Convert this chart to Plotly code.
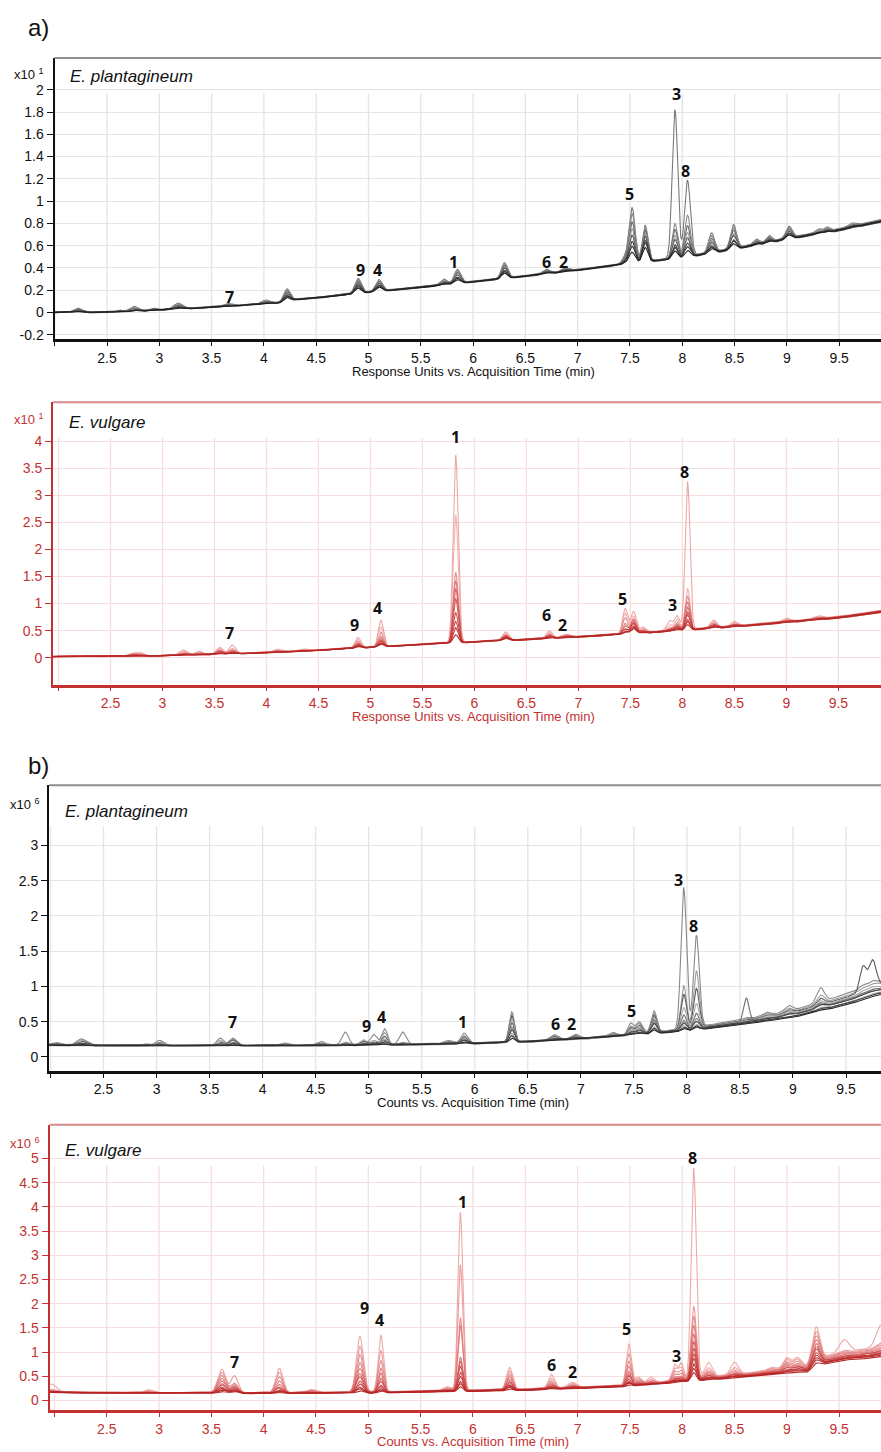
import numpy as np
import plotly.graph_objects as go

W, H = 881, 1452

# ================= a) upper: E. plantagineum (Response Units, x10^1) =================
a1_base_t = [2.0, 2.5, 3.0, 3.5, 4.0, 4.2, 4.3, 4.5, 5.0, 5.5, 6.0, 6.5, 7.0, 7.5, 8.0, 8.5, 9.0, 9.5, 9.9]
a1_base_y = [0.0, 0.0, 0.02, 0.045, 0.075, 0.09, 0.115, 0.13, 0.18, 0.225, 0.275, 0.325, 0.38, 0.44, 0.49, 0.57, 0.66, 0.74, 0.82]
a1_peak_t = [2.22, 2.62, 2.76, 2.95, 3.18, 3.65, 4.02, 4.22, 4.90, 5.10, 5.72, 5.85, 6.30, 6.70, 6.88,
             7.45, 7.52, 7.645, 7.93, 8.05, 8.28, 8.49, 8.71, 8.83, 9.02, 9.30, 9.38, 9.62]
a1_peak_w = [0.035, 0.025, 0.035, 0.025, 0.04, 0.035, 0.035, 0.03, 0.03, 0.03, 0.03, 0.03, 0.028, 0.03, 0.03,
             0.025, 0.029, 0.026, 0.026, 0.028, 0.028, 0.028, 0.025, 0.025, 0.028, 0.025, 0.025, 0.03]
a1_peak_h = [
    [0.035, 0.03, 0.025, 0.02, 0.02, 0.015, 0.01, 0.01],
    [0.012, 0.01, 0.01, 0.008, 0.008, 0.005, 0.005, 0.005],
    [0.04, 0.03, 0.025, 0.02, 0.015, 0.012, 0.01, 0.008],
    [0.015, 0.012, 0.01, 0.01, 0.008, 0.008, 0.005, 0.005],
    [0.05, 0.04, 0.035, 0.03, 0.025, 0.02, 0.015, 0.01],
    [0.02, 0.015, 0.012, 0.01, 0.01, 0.008, 0.006, 0.005],
    [0.03, 0.025, 0.02, 0.015, 0.012, 0.01, 0.008, 0.006],
    [0.11, 0.10, 0.09, 0.08, 0.07, 0.06, 0.05, 0.04],
    [0.13, 0.12, 0.11, 0.10, 0.09, 0.08, 0.06, 0.05],
    [0.10, 0.09, 0.085, 0.08, 0.07, 0.06, 0.05, 0.04],
    [0.045, 0.035, 0.03, 0.025, 0.02, 0.015, 0.012, 0.01],
    [0.12, 0.11, 0.10, 0.09, 0.075, 0.06, 0.045, 0.035],
    [0.135, 0.125, 0.115, 0.10, 0.09, 0.075, 0.06, 0.05],
    [0.035, 0.03, 0.025, 0.02, 0.02, 0.015, 0.012, 0.01],
    [0.025, 0.022, 0.02, 0.018, 0.015, 0.012, 0.01, 0.008],
    [0.05, 0.04, 0.035, 0.03, 0.025, 0.02, 0.015, 0.01],
    [0.49, 0.44, 0.37, 0.31, 0.25, 0.20, 0.15, 0.10],
    [0.32, 0.30, 0.28, 0.26, 0.23, 0.20, 0.17, 0.13],
    [1.33, 0.31, 0.26, 0.21, 0.17, 0.13, 0.10, 0.07],
    [0.68, 0.37, 0.28, 0.22, 0.17, 0.13, 0.09, 0.06],
    [0.17, 0.15, 0.13, 0.11, 0.09, 0.07, 0.05, 0.04],
    [0.21, 0.19, 0.17, 0.14, 0.12, 0.09, 0.07, 0.05],
    [0.04, 0.035, 0.03, 0.025, 0.02, 0.018, 0.015, 0.01],
    [0.05, 0.045, 0.04, 0.035, 0.03, 0.025, 0.02, 0.015],
    [0.10, 0.095, 0.085, 0.075, 0.065, 0.055, 0.045, 0.035],
    [0.03, 0.025, 0.02, 0.02, 0.015, 0.015, 0.01, 0.01],
    [0.035, 0.03, 0.025, 0.02, 0.02, 0.015, 0.01, 0.01],
    [0.025, 0.02, 0.02, 0.015, 0.015, 0.01, 0.01, 0.008],
]
a1_offs = [0.004, 0.002, 0.0, -0.002, 0.003, -0.003, 0.001, -0.001]
a1_tail = [0.01, 0.006, 0.003, 0.0, -0.003, -0.006, 0.002, -0.002]
a1_spread_t = [2.0, 7.5, 9.9]
a1_spread_w = [0.0, 0.3, 1.0]
a1_colors = ['#7a7a7a', '#8c8c8c', '#6a6a6a', '#9a9a9a', '#555555', '#444444', '#333333', '#1e1e1e']
a1_labels = ['7', '9', '4', '1', '6', '2', '5', '3', '8']
a1_label_t = [3.67, 4.92, 5.09, 5.81, 6.70, 6.86, 7.50, 7.94, 8.03]
a1_label_y = [0.14, 0.38, 0.38, 0.45, 0.45, 0.45, 1.06, 1.96, 1.27]

# ================= a) lower: E. vulgare (Response Units, x10^1) =================
a2_base_t = [1.95, 2.5, 3.0, 3.5, 4.0, 4.5, 5.0, 5.5, 6.0, 6.5, 7.0, 7.5, 8.0, 8.5, 9.0, 9.5, 9.91]
a2_base_y = [0.02, 0.02, 0.035, 0.06, 0.09, 0.135, 0.19, 0.245, 0.29, 0.335, 0.385, 0.44, 0.505, 0.575, 0.65, 0.74, 0.85]
a2_peak_t = [2.28, 2.70, 2.78, 3.20, 3.35, 3.55, 3.67, 4.10, 4.35, 4.88, 5.10, 5.82, 6.30, 6.72, 6.88,
             7.45, 7.53, 7.62, 7.88, 7.95, 8.05, 8.30, 8.50, 9.00, 9.30]
a2_peak_w = [0.035, 0.035, 0.035, 0.035, 0.035, 0.03, 0.03, 0.035, 0.035, 0.026, 0.024, 0.024, 0.028, 0.026, 0.035,
             0.024, 0.026, 0.024, 0.028, 0.024, 0.023, 0.028, 0.028, 0.035, 0.035]
a2_peak_h = [
    [0.02, 0.02, 0.015, 0.015, 0.01, 0.01, 0.01, 0.008, 0.005, 0.005],
    [0.05, 0.04, 0.035, 0.03, 0.025, 0.02, 0.015, 0.01, 0.01, 0.005],
    [0.06, 0.05, 0.04, 0.03, 0.025, 0.02, 0.015, 0.01, 0.01, 0.005],
    [0.09, 0.07, 0.05, 0.04, 0.03, 0.025, 0.02, 0.015, 0.01, 0.01],
    [0.06, 0.05, 0.04, 0.03, 0.02, 0.015, 0.01, 0.01, 0.005, 0.005],
    [0.12, 0.10, 0.08, 0.07, 0.06, 0.05, 0.04, 0.03, 0.02, 0.015],
    [0.16, 0.10, 0.08, 0.06, 0.05, 0.04, 0.03, 0.025, 0.02, 0.015],
    [0.05, 0.04, 0.03, 0.025, 0.02, 0.015, 0.01, 0.01, 0.005, 0.005],
    [0.03, 0.025, 0.02, 0.015, 0.01, 0.01, 0.008, 0.006, 0.005, 0.004],
    [0.19, 0.15, 0.12, 0.10, 0.08, 0.07, 0.06, 0.05, 0.04, 0.03],
    [0.48, 0.36, 0.27, 0.20, 0.15, 0.12, 0.10, 0.08, 0.06, 0.05],
    [3.46, 2.35, 1.30, 1.15, 1.00, 0.82, 0.55, 0.40, 0.28, 0.15],
    [0.15, 0.13, 0.11, 0.10, 0.09, 0.08, 0.07, 0.06, 0.05, 0.04],
    [0.13, 0.10, 0.08, 0.07, 0.06, 0.05, 0.04, 0.03, 0.025, 0.02],
    [0.05, 0.045, 0.04, 0.035, 0.03, 0.025, 0.02, 0.015, 0.01, 0.01],
    [0.46, 0.38, 0.30, 0.20, 0.15, 0.10, 0.08, 0.06, 0.05, 0.04],
    [0.40, 0.32, 0.27, 0.22, 0.25, 0.20, 0.18, 0.15, 0.12, 0.10],
    [0.10, 0.08, 0.06, 0.05, 0.04, 0.03, 0.03, 0.02, 0.02, 0.01],
    [0.18, 0.10, 0.06, 0.04, 0.03, 0.02, 0.02, 0.01, 0.01, 0.01],
    [0.26, 0.20, 0.15, 0.12, 0.10, 0.08, 0.06, 0.05, 0.04, 0.03],
    [2.73, 0.76, 0.62, 0.52, 0.42, 0.34, 0.27, 0.20, 0.15, 0.10],
    [0.13, 0.11, 0.09, 0.08, 0.07, 0.06, 0.05, 0.04, 0.03, 0.02],
    [0.08, 0.06, 0.05, 0.04, 0.035, 0.03, 0.025, 0.02, 0.015, 0.01],
    [0.06, 0.05, 0.04, 0.035, 0.03, 0.025, 0.02, 0.015, 0.01, 0.01],
    [0.05, 0.04, 0.035, 0.03, 0.025, 0.02, 0.015, 0.01, 0.01, 0.01],
]
a2_offs = [0.005, 0.003, 0.0, -0.003, 0.002, -0.002, 0.004, -0.004, 0.001, -0.001]
a2_tail = [0.02, 0.012, 0.006, 0.0, -0.006, -0.012, 0.01, -0.01, 0.003, -0.003]
a2_spread_t = [1.95, 7.5, 9.91]
a2_spread_w = [0.0, 0.3, 1.0]
a2_colors = ['rgba(234,150,150,0.85)', 'rgba(238,165,165,0.85)', 'rgba(224,120,120,0.85)', 'rgba(218,105,105,0.85)',
             'rgba(210,88,88,0.85)', 'rgba(204,74,74,0.9)', 'rgba(198,62,62,0.9)', 'rgba(192,52,52,0.9)',
             'rgba(186,44,44,0.95)', 'rgba(180,38,38,0.95)']
a2_labels = ['7', '9', '4', '1', '6', '2', '5', '3', '8']
a2_label_t = [3.64, 4.85, 5.07, 5.82, 6.69, 6.85, 7.42, 7.90, 8.02]
a2_label_y = [0.46, 0.61, 0.92, 4.08, 0.79, 0.61, 1.09, 0.98, 3.43]

# ================= b) upper: E. plantagineum (Counts, x10^6) =================
b1_base_t = [1.99, 2.5, 3.0, 3.5, 4.0, 4.5, 5.0, 5.5, 6.0, 6.5, 7.0, 7.5, 8.0, 8.5, 9.0, 9.5, 9.84]
b1_base_y = [0.165, 0.16, 0.155, 0.155, 0.155, 0.16, 0.165, 0.175, 0.19, 0.215, 0.255, 0.31, 0.38, 0.48, 0.60, 0.80, 0.97]
b1_peak_t = [2.05, 2.28, 2.33, 2.90, 3.03, 3.60, 3.72, 4.20, 4.55, 4.78, 4.95, 5.05, 5.15, 5.32, 5.75, 5.90,
             6.35, 6.75, 6.95, 7.30, 7.47, 7.55, 7.69, 7.97, 8.09, 8.56, 8.75, 8.96, 9.26, 9.66, 9.75]
b1_peak_w = [0.035, 0.035, 0.035, 0.035, 0.035, 0.03, 0.035, 0.035, 0.035, 0.03, 0.03, 0.03, 0.026, 0.03, 0.035, 0.03,
             0.024, 0.035, 0.035, 0.035, 0.026, 0.03, 0.026, 0.026, 0.027, 0.026, 0.035, 0.035, 0.035, 0.03, 0.035]
b1_peak_h = [
    [0.03, 0.02, 0.02, 0.015, 0.01, 0.01, 0.01, 0.005, 0.005, 0.005],
    [0.07, 0.05, 0.04, 0.03, 0.02, 0.02, 0.015, 0.01, 0.01, 0.005],
    [0.03, 0.04, 0.03, 0.02, 0.02, 0.015, 0.01, 0.01, 0.005, 0.005],
    [0.02, 0.02, 0.015, 0.01, 0.01, 0.01, 0.005, 0.005, 0.005, 0.005],
    [0.07, 0.05, 0.04, 0.03, 0.025, 0.02, 0.015, 0.01, 0.01, 0.005],
    [0.10, 0.07, 0.05, 0.04, 0.03, 0.025, 0.02, 0.015, 0.01, 0.01],
    [0.10, 0.09, 0.08, 0.06, 0.05, 0.04, 0.03, 0.02, 0.015, 0.01],
    [0.03, 0.025, 0.02, 0.015, 0.01, 0.01, 0.01, 0.005, 0.005, 0.005],
    [0.05, 0.03, 0.02, 0.015, 0.01, 0.01, 0.01, 0.005, 0.005, 0.005],
    [0.18, 0.04, 0.03, 0.02, 0.02, 0.015, 0.01, 0.01, 0.005, 0.005],
    [0.05, 0.07, 0.05, 0.04, 0.03, 0.025, 0.02, 0.015, 0.01, 0.01],
    [0.14, 0.06, 0.04, 0.03, 0.025, 0.02, 0.015, 0.01, 0.01, 0.005],
    [0.22, 0.17, 0.12, 0.09, 0.07, 0.05, 0.04, 0.03, 0.02, 0.015],
    [0.17, 0.03, 0.02, 0.02, 0.015, 0.01, 0.01, 0.005, 0.005, 0.005],
    [0.04, 0.035, 0.03, 0.025, 0.02, 0.015, 0.01, 0.01, 0.005, 0.005],
    [0.14, 0.11, 0.09, 0.07, 0.06, 0.05, 0.04, 0.03, 0.02, 0.015],
    [0.42, 0.40, 0.37, 0.33, 0.28, 0.22, 0.17, 0.13, 0.09, 0.06],
    [0.07, 0.06, 0.05, 0.04, 0.03, 0.025, 0.02, 0.015, 0.01, 0.01],
    [0.06, 0.05, 0.04, 0.03, 0.025, 0.02, 0.015, 0.01, 0.01, 0.005],
    [0.05, 0.04, 0.03, 0.025, 0.02, 0.015, 0.01, 0.01, 0.005, 0.005],
    [0.16, 0.12, 0.10, 0.08, 0.06, 0.05, 0.04, 0.03, 0.02, 0.015],
    [0.17, 0.15, 0.13, 0.11, 0.09, 0.07, 0.05, 0.04, 0.03, 0.02],
    [0.30, 0.28, 0.25, 0.22, 0.19, 0.16, 0.13, 0.10, 0.07, 0.05],
    [2.00, 0.62, 0.50, 0.32, 0.22, 0.15, 0.10, 0.08, 0.05, 0.04],
    [1.30, 0.80, 0.56, 0.35, 0.22, 0.15, 0.10, 0.08, 0.05, 0.04],
    [0.02, 0.02, 0.015, 0.01, 0.34, 0.01, 0.01, 0.005, 0.005, 0.005],
    [0.04, 0.035, 0.03, 0.025, 0.02, 0.015, 0.01, 0.01, 0.005, 0.005],
    [0.08, 0.06, 0.05, 0.04, 0.03, 0.025, 0.02, 0.015, 0.01, 0.01],
    [0.20, 0.12, 0.09, 0.07, 0.06, 0.05, 0.04, 0.03, 0.02, 0.015],
    [0.04, 0.03, 0.35, 0.03, 0.02, 0.02, 0.015, 0.01, 0.01, 0.01],
    [0.05, 0.04, 0.40, 0.04, 0.03, 0.02, 0.02, 0.015, 0.01, 0.01],
]
b1_offs = [0.01, 0.006, 0.003, 0.0, -0.003, -0.006, 0.008, -0.008, 0.002, -0.002]
b1_tail = [0.10, 0.07, 0.05, 0.03, 0.01, 0.0, -0.02, -0.04, -0.06, -0.08]
b1_spread_t = [1.99, 7.5, 8.5, 9.0, 9.5, 9.84]
b1_spread_w = [0.0, 0.0, 0.3, 0.5, 0.8, 1.0]
b1_colors = ['#8a8a8a', '#9c9c9c', '#5c5c5c', '#a8a8a8', '#6e6e6e', '#7c7c7c', '#4a4a4a', '#b0b0b0', '#3a3a3a', '#2a2a2a']
b1_labels = ['7', '9', '4', '1', '6', '2', '5', '3', '8']
b1_label_t = [3.72, 4.98, 5.12, 5.88, 6.76, 6.91, 7.48, 7.92, 8.06]
b1_label_y = [0.50, 0.44, 0.57, 0.50, 0.47, 0.47, 0.65, 2.51, 1.86]

# ================= b) lower: E. vulgare (Counts, x10^6) =================
b2_base_t = [1.95, 2.5, 3.0, 3.5, 4.0, 4.5, 5.0, 5.5, 6.0, 6.5, 7.0, 7.5, 8.0, 8.5, 9.0, 9.2, 9.35, 9.5, 9.9]
b2_base_y = [0.17, 0.155, 0.15, 0.15, 0.15, 0.155, 0.16, 0.18, 0.20, 0.22, 0.26, 0.30, 0.40, 0.50, 0.60, 0.65, 0.82, 0.90, 1.0]
b2_peak_t = [1.97, 2.90, 3.60, 3.72, 4.15, 4.45, 4.92, 5.12, 5.75, 5.88, 6.35, 6.75, 6.95, 7.49, 7.58, 7.70,
             7.93, 7.99, 8.11, 8.25, 8.50, 8.85, 9.00, 9.10, 9.28, 9.55, 9.90]
b2_peak_w = [0.045, 0.035, 0.038, 0.033, 0.033, 0.035, 0.033, 0.025, 0.035, 0.023, 0.028, 0.028, 0.035, 0.024, 0.03, 0.03,
             0.024, 0.022, 0.024, 0.035, 0.035, 0.035, 0.035, 0.035, 0.035, 0.045, 0.045]
b2_peak_h = [
    [0.16, 0.05, 0.04, 0.03, 0.02, 0.02, 0.01, 0.01, 0.01, 0.01, 0.005, 0.005],
    [0.06, 0.04, 0.03, 0.02, 0.02, 0.01, 0.01, 0.01, 0.01, 0.005, 0.005, 0.005],
    [0.48, 0.42, 0.36, 0.30, 0.25, 0.20, 0.16, 0.13, 0.10, 0.08, 0.06, 0.04],
    [0.18, 0.35, 0.20, 0.16, 0.14, 0.12, 0.10, 0.08, 0.07, 0.06, 0.05, 0.04],
    [0.50, 0.42, 0.33, 0.25, 0.18, 0.13, 0.10, 0.08, 0.06, 0.04, 0.03, 0.02],
    [0.06, 0.05, 0.04, 0.03, 0.02, 0.02, 0.015, 0.01, 0.01, 0.01, 0.005, 0.005],
    [1.15, 0.95, 0.78, 0.62, 0.50, 0.40, 0.32, 0.25, 0.18, 0.12, 0.08, 0.05],
    [1.17, 0.85, 0.65, 0.50, 0.40, 0.30, 0.22, 0.16, 0.12, 0.08, 0.05, 0.04],
    [0.08, 0.06, 0.05, 0.04, 0.03, 0.03, 0.02, 0.02, 0.015, 0.01, 0.01, 0.01],
    [3.68, 2.60, 1.50, 1.35, 0.70, 0.62, 0.50, 0.40, 0.30, 0.20, 0.15, 0.10],
    [0.45, 0.38, 0.32, 0.27, 0.22, 0.18, 0.15, 0.12, 0.10, 0.08, 0.06, 0.04],
    [0.28, 0.20, 0.15, 0.12, 0.10, 0.08, 0.06, 0.05, 0.04, 0.03, 0.02, 0.02],
    [0.10, 0.08, 0.06, 0.05, 0.04, 0.03, 0.03, 0.02, 0.02, 0.02, 0.01, 0.01],
    [0.85, 0.65, 0.50, 0.40, 0.30, 0.25, 0.20, 0.15, 0.10, 0.08, 0.06, 0.04],
    [0.15, 0.12, 0.10, 0.08, 0.06, 0.05, 0.04, 0.03, 0.03, 0.02, 0.02, 0.01],
    [0.12, 0.08, 0.06, 0.05, 0.04, 0.03, 0.03, 0.02, 0.02, 0.02, 0.01, 0.01],
    [0.33, 0.25, 0.20, 0.15, 0.10, 0.08, 0.06, 0.05, 0.04, 0.03, 0.02, 0.02],
    [0.25, 0.35, 0.20, 0.15, 0.10, 0.08, 0.06, 0.05, 0.04, 0.03, 0.02, 0.02],
    [4.35, 1.50, 1.30, 1.12, 0.95, 0.80, 0.65, 0.55, 0.45, 0.35, 0.25, 0.18],
    [0.30, 0.20, 0.15, 0.12, 0.10, 0.08, 0.06, 0.05, 0.04, 0.03, 0.02, 0.02],
    [0.25, 0.15, 0.10, 0.08, 0.06, 0.05, 0.04, 0.03, 0.03, 0.02, 0.02, 0.01],
    [0.06, 0.05, 0.04, 0.03, 0.03, 0.02, 0.02, 0.02, 0.01, 0.01, 0.01, 0.01],
    [0.22, 0.20, 0.16, 0.14, 0.12, 0.10, 0.08, 0.06, 0.05, 0.04, 0.03, 0.02],
    [0.20, 0.18, 0.15, 0.12, 0.10, 0.08, 0.07, 0.06, 0.05, 0.04, 0.03, 0.02],
    [0.70, 0.62, 0.55, 0.48, 0.42, 0.37, 0.32, 0.27, 0.22, 0.18, 0.14, 0.10],
    [0.25, 0.05, 0.04, 0.03, 0.03, 0.02, 0.02, 0.02, 0.01, 0.01, 0.01, 0.01],
    [0.45, 0.10, 0.08, 0.06, 0.05, 0.04, 0.03, 0.03, 0.02, 0.02, 0.01, 0.01],
]
b2_offs = [0.01, 0.006, 0.003, 0.0, -0.003, -0.006, 0.008, -0.008, 0.002, -0.002, 0.005, -0.005]
b2_tail = [0.10, 0.08, 0.06, 0.04, 0.02, 0.0, -0.02, -0.03, -0.05, -0.06, -0.08, -0.10]
b2_spread_t = [1.95, 7.5, 8.5, 9.0, 9.5, 9.9]
b2_spread_w = [0.0, 0.1, 0.3, 0.5, 0.8, 1.0]
b2_colors = ['rgba(236,155,155,0.85)', 'rgba(232,140,140,0.85)', 'rgba(226,125,125,0.85)', 'rgba(220,110,110,0.85)',
             'rgba(214,96,96,0.85)', 'rgba(208,84,84,0.9)', 'rgba(203,72,72,0.9)', 'rgba(198,62,62,0.9)',
             'rgba(193,54,54,0.9)', 'rgba(188,46,46,0.95)', 'rgba(183,40,40,0.95)', 'rgba(178,34,34,0.95)']
b2_labels = ['7', '9', '4', '1', '6', '2', '5', '3', '8']
b2_label_t = [3.72, 4.96, 5.11, 5.90, 6.75, 6.95, 7.47, 7.95, 8.10]
b2_label_y = [0.79, 1.92, 1.66, 4.11, 0.73, 0.58, 1.47, 0.91, 5.02]

# ================= ticks =================
x_tickvals = [2.5, 3, 3.5, 4, 4.5, 5, 5.5, 6, 6.5, 7, 7.5, 8, 8.5, 9, 9.5]
x_ticktext = ['2.5', '3', '3.5', '4', '4.5', '5', '5.5', '6', '6.5', '7', '7.5', '8', '8.5', '9', '9.5']
x_grid = [2, 2.5, 3, 3.5, 4, 4.5, 5, 5.5, 6, 6.5, 7, 7.5, 8, 8.5, 9, 9.5]
a1_yticks = [-0.2, 0, 0.2, 0.4, 0.6, 0.8, 1.0, 1.2, 1.4, 1.6, 1.8, 2.0]
a1_ytext = ['-0.2', '0', '0.2', '0.4', '0.6', '0.8', '1', '1.2', '1.4', '1.6', '1.8', '2']
a2_yticks = [0, 0.5, 1, 1.5, 2, 2.5, 3, 3.5, 4]
a2_ytext = ['0', '0.5', '1', '1.5', '2', '2.5', '3', '3.5', '4']
b1_yticks = [0, 0.5, 1, 1.5, 2, 2.5, 3]
b1_ytext = ['0', '0.5', '1', '1.5', '2', '2.5', '3']
b2_yticks = [0, 0.5, 1, 1.5, 2, 2.5, 3, 3.5, 4, 4.5, 5]
b2_ytext = ['0', '0.5', '1', '1.5', '2', '2.5', '3', '3.5', '4', '4.5', '5']


def build(t, base_t, base_y, peak_t, peak_w, peak_h, offs, tail, spread_t, spread_w):
    base = np.interp(t, base_t, base_y)
    sw = np.interp(t, spread_t, spread_w)
    n = len(peak_h[0])
    out = []
    for k in range(n):
        y = base + offs[k] + tail[k] * sw
        for tp, wp, hp in zip(peak_t, peak_w, peak_h):
            y = y + hp[k] * np.exp(-0.5 * ((t - tp) / wp) ** 2)
        out.append(np.round(y, 4))
    return out


def fx(px):
    return px / W


def fy(py):
    return 1 - py / H


RED = '#c43131'
BLACK = '#111111'
GRID_G = '#e4e4e4'
GRID_R = '#f7dede'
FONT = 'Liberation Sans, Arial, sans-serif'

panels = [
    dict(n='', xr=[1.998, 9.90], yr=[-0.242, 2.287], xd=[fx(54.5), 1], yd=[fy(340), fy(58)],
         col=BLACK, grid=GRID_G, top='#8e8e8e', gtop=1.97, yt=a1_yticks, ytt=a1_ytext,
         data=(a1_base_t, a1_base_y, a1_peak_t, a1_peak_w, a1_peak_h, a1_offs, a1_tail, a1_spread_t, a1_spread_w),
         colors=a1_colors, labels=(a1_labels, a1_label_t, a1_label_y),
         title='E. plantagineum', title_xy=(68, 77), exp='1', exp_xy=(12, 74), top_y=58, left=54.5,
         xtitle='Response Units vs. Acquisition Time (min)', xtitle_y=372),
    dict(n='2', xr=[1.947, 9.91], yr=[-0.498, 4.723], xd=[fx(53), 1], yd=[fy(686), fy(403)],
         col=RED, grid=GRID_R, top='#d98a8a', gtop=4.07, yt=a2_yticks, ytt=a2_ytext,
         data=(a2_base_t, a2_base_y, a2_peak_t, a2_peak_w, a2_peak_h, a2_offs, a2_tail, a2_spread_t, a2_spread_w),
         colors=a2_colors, labels=(a2_labels, a2_label_t, a2_label_y),
         title='E. vulgare', title_xy=(67, 423), exp='1', exp_xy=(12, 420), top_y=403, left=53,
         xtitle='Response Units vs. Acquisition Time (min)', xtitle_y=718),
    dict(n='3', xr=[1.986, 9.83], yr=[-0.198, 3.853], xd=[fx(49), 1], yd=[fy(1073), fy(787)],
         col=BLACK, grid=GRID_G, top='#8e8e8e', gtop=3.27, yt=b1_yticks, ytt=b1_ytext,
         data=(b1_base_t, b1_base_y, b1_peak_t, b1_peak_w, b1_peak_h, b1_offs, b1_tail, b1_spread_t, b1_spread_w),
         colors=b1_colors, labels=(b1_labels, b1_label_t, b1_label_y),
         title='E. plantagineum', title_xy=(63, 813), exp='6', exp_xy=(8, 806), top_y=787, left=49,
         xtitle='Counts vs. Acquisition Time (min)', xtitle_y=1105),
    dict(n='4', xr=[1.953, 9.90], yr=[-0.20, 5.70], xd=[fx(49.5), 1], yd=[fy(1413), fy(1127)],
         col=RED, grid=GRID_R, top='#d98a8a', gtop=4.85, yt=b2_yticks, ytt=b2_ytext,
         data=(b2_base_t, b2_base_y, b2_peak_t, b2_peak_w, b2_peak_h, b2_offs, b2_tail, b2_spread_t, b2_spread_w),
         colors=b2_colors, labels=(b2_labels, b2_label_t, b2_label_y),
         title='E. vulgare', title_xy=(63, 1153), exp='6', exp_xy=(8, 1145), top_y=1127, left=49.5,
         xtitle='Counts vs. Acquisition Time (min)', xtitle_y=1444),
]

fig = go.Figure()
shapes = []
annotations = []
layout = dict(width=W, height=H, margin=dict(l=0, r=0, t=0, b=0), paper_bgcolor='white',
              plot_bgcolor='rgba(0,0,0,0)', showlegend=False)

for p in panels:
    n = p['n']
    xa = 'x' + n
    ya = 'y' + n
    t = np.linspace(p['xr'][0], p['xr'][1], 2200)
    ys = build(t, *p['data'])
    for y, c in zip(ys, p['colors']):
        fig.add_trace(go.Scatter(x=np.round(t, 4), y=y, mode='lines', line=dict(color=c, width=1.1),
                                 xaxis=xa, yaxis=ya, hoverinfo='skip'))
    layout['xaxis' + n] = dict(domain=p['xd'], range=p['xr'], anchor=ya, tickvals=x_tickvals, ticktext=x_ticktext,
                               showgrid=False, zeroline=False, showline=True, linecolor=p['col'], linewidth=2.5,
                               ticks='outside', ticklen=4, tickwidth=1.2, tickcolor=p['col'],
                               minor=dict(tickmode='array', tickvals=[2], ticks='outside', ticklen=4,
                                          tickwidth=1.2, tickcolor=p['col'], showgrid=False),
                               tickfont=dict(family=FONT, size=14, color=p['col']))
    layout['yaxis' + n] = dict(domain=p['yd'], range=p['yr'], anchor=xa, tickvals=p['yt'], ticktext=p['ytt'],
                               showgrid=True, gridcolor=p['grid'], gridwidth=1.3, zeroline=False,
                               showline=True, linecolor=p['col'], linewidth=2,
                               ticks='outside', ticklen=6, tickwidth=1.2, tickcolor=p['col'],
                               tickfont=dict(family=FONT, size=14, color=p['col']))
    # vertical grid lines
    for v in x_grid:
        shapes.append(dict(type='line', xref=xa, yref=ya, x0=v, x1=v, y0=p['yr'][0], y1=p['gtop'],
                           line=dict(color=p['grid'], width=1.3), layer='below'))
    # top frame line
    shapes.append(dict(type='line', xref='paper', yref='paper', x0=fx(p['left']), x1=1,
                       y0=fy(p['top_y']), y1=fy(p['top_y']), line=dict(color=p['top'], width=2)))
    # peak labels
    for lab, lt, ly in zip(*p['labels']):
        annotations.append(dict(x=lt, y=ly, xref=xa, yref=ya, text='<b>' + lab + '</b>', showarrow=False,
                                font=dict(family='Open Sans, Liberation Sans, sans-serif', size=16, color='#111111'),
                                xanchor='center', yanchor='middle'))
    # panel title
    annotations.append(dict(x=fx(p['title_xy'][0]), y=fy(p['title_xy'][1]), xref='paper', yref='paper',
                            text='<i>' + p['title'] + '</i>', showarrow=False, xanchor='left', yanchor='middle',
                            font=dict(family=FONT, size=17, color='#111111')))
    # exponent label
    annotations.append(dict(x=fx(p['exp_xy'][0]), y=fy(p['exp_xy'][1]), xref='paper', yref='paper',
                            text='x10 <sup>' + p['exp'] + '</sup>', showarrow=False, xanchor='left',
                            yanchor='middle', font=dict(family=FONT, size=13, color=p['col'])))
    # x-axis title
    annotations.append(dict(x=fx(473), y=fy(p['xtitle_y']), xref='paper', yref='paper', text=p['xtitle'],
                            showarrow=False, xanchor='center', yanchor='middle',
                            font=dict(family=FONT, size=13, color=p['col'])))

annotations.append(dict(x=fx(26), y=fy(28), xref='paper', yref='paper', text='a)', showarrow=False,
                        xanchor='left', yanchor='middle', font=dict(family=FONT, size=24, color='#111111')))
annotations.append(dict(x=fx(26), y=fy(767), xref='paper', yref='paper', text='b)', showarrow=False,
                        xanchor='left', yanchor='middle', font=dict(family=FONT, size=24, color='#111111')))

layout['shapes'] = shapes
layout['annotations'] = annotations
fig.update_layout(**layout)
fig.write_html('out.html', config={'displayModeBar': False},
               post_script="document.body.style.margin='0';document.body.style.overflow='hidden';")
